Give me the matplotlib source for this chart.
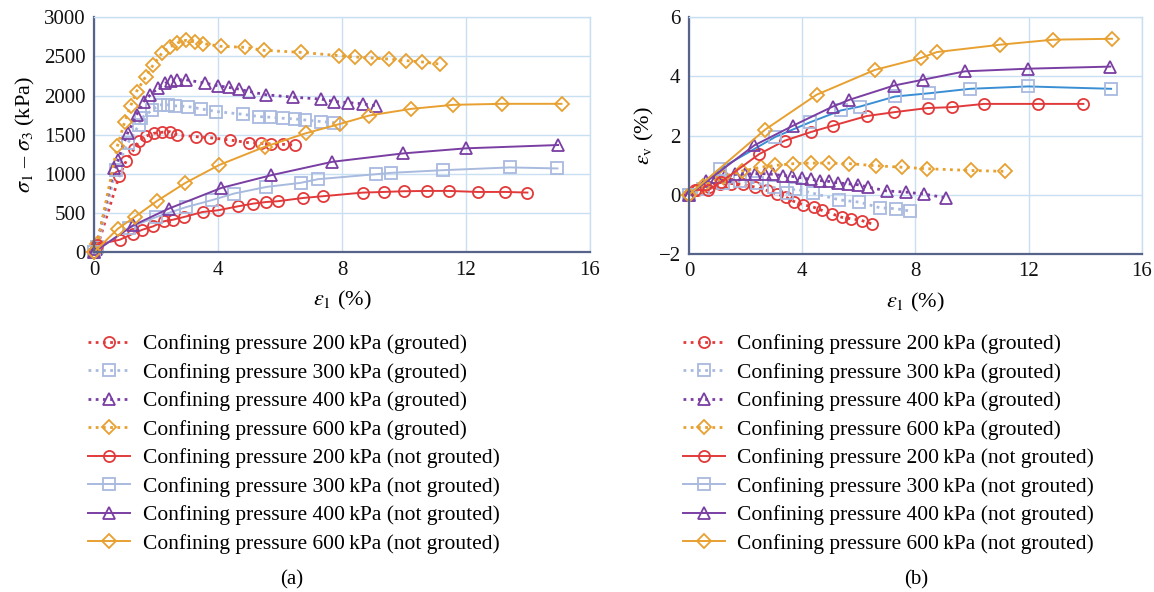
import matplotlib
matplotlib.use("Agg")
import matplotlib.pyplot as plt

# ---------------- data: panel (a) deviator stress ----------------
a_g200_x = [0, 0.1, 0.81, 1.04, 1.29, 1.45, 1.69, 1.93, 2.2, 2.44, 2.69, 3.3, 3.73, 4.38, 5.0, 5.38, 5.72, 6.1, 6.47]
a_g200_y = [0, 60, 971, 1167, 1317, 1423, 1483, 1518, 1531, 1538, 1496, 1474, 1462, 1432, 1397, 1390, 1381, 1377, 1368]
a_g300_x = [0, 0.1, 0.7, 1.1, 1.45, 1.53, 1.88, 2.12, 2.39, 2.6, 3.03, 3.46, 3.95, 4.79, 5.32, 5.67, 6.08, 6.48, 6.8, 7.33, 7.75]
a_g300_y = [0, 60, 1050, 1400, 1624, 1710, 1817, 1881, 1881, 1868, 1859, 1829, 1795, 1761, 1731, 1723, 1710, 1701, 1688, 1667, 1654]
a_g400_x = [0, 0.05, 0.65, 0.77, 1.08, 1.37, 1.6, 1.82, 2.06, 2.3, 2.47, 2.69, 2.96, 3.57, 4.0, 4.35, 4.68, 5.0, 5.56, 6.42, 7.33, 7.75, 8.2, 8.66, 9.11]
a_g400_y = [0, 40, 1069, 1175, 1518, 1752, 1923, 2009, 2094, 2159, 2180, 2201, 2201, 2159, 2124, 2103, 2082, 2051, 2009, 1979, 1954, 1923, 1910, 1894, 1868]
a_g600_x = [0, 0.1, 0.75, 0.99, 1.18, 1.37, 1.66, 1.9, 2.19, 2.44, 2.69, 2.96, 3.25, 3.52, 4.09, 4.86, 5.48, 6.67, 7.9, 8.41, 8.95, 9.5, 10.05, 10.59, 11.15]
a_g600_y = [0, 100, 1350, 1667, 1868, 2051, 2236, 2385, 2543, 2615, 2671, 2705, 2684, 2663, 2628, 2615, 2577, 2551, 2509, 2492, 2479, 2466, 2445, 2428, 2402]

a_n200_x = [0, 0.08, 0.83, 1.26, 1.56, 1.9, 2.25, 2.55, 2.9, 3.5, 4.0, 4.65, 5.13, 5.56, 5.92, 6.74, 7.37, 8.68, 9.35, 9.99, 10.74, 11.45, 12.37, 13.27, 13.98]
a_n200_y = [0, 95, 159, 236, 287, 329, 394, 415, 449, 513, 535, 586, 620, 641, 650, 692, 714, 761, 769, 778, 782, 782, 769, 769, 761]
a_n300_x = [0, 1.13, 2.01, 2.98, 3.79, 4.51, 5.56, 6.66, 7.23, 9.11, 9.59, 11.26, 13.41, 14.95]
a_n300_y = [0, 312, 449, 577, 663, 748, 833, 885, 932, 996, 1013, 1047, 1082, 1069]
a_n400_x = [0, 1.26, 2.41, 4.11, 5.72, 7.69, 9.97, 12.01, 14.97]
a_n400_y = [0, 342, 556, 821, 983, 1154, 1261, 1326, 1368]
a_n600_x = [0, 0.77, 1.31, 2.03, 2.95, 4.03, 5.51, 6.83, 7.93, 8.87, 10.22, 11.58, 13.16, 15.08]
a_n600_y = [0, 300, 449, 654, 885, 1112, 1346, 1518, 1637, 1744, 1829, 1881, 1894, 1894]

# ---------------- data: panel (b) volumetric strain ----------------
b_g200_x = [0, 0.3, 0.7, 1.1, 1.5, 1.9, 2.33, 2.74, 3.1, 3.42, 3.72, 4.02, 4.4, 4.71, 5.04, 5.39, 5.72, 6.1, 6.45]
b_g200_y = [0, 0.15, 0.25, 0.35, 0.38, 0.35, 0.26, 0.15, 0.03, -0.08, -0.23, -0.33, -0.42, -0.53, -0.64, -0.76, -0.81, -0.87, -0.98]
b_g300_x = [0, 0.5, 1.2, 1.8, 2.4, 3.0, 3.45, 3.75, 4.39, 5.31, 6.02, 6.75, 7.31, 7.81]
b_g300_y = [0, 0.2, 0.4, 0.45, 0.4, 0.25, 0.05, 0.2, 0.05, -0.17, -0.25, -0.44, -0.47, -0.55]
b_g400_x = [0, 0.6, 1.0, 1.27, 1.63, 1.98, 2.33, 2.69, 2.98, 3.31, 3.65, 3.98, 4.31, 4.63, 4.96, 5.28, 5.63, 5.96, 6.34, 6.98, 7.67, 8.31, 9.08]
b_g400_y = [0, 0.45, 0.6, 0.65, 0.69, 0.71, 0.71, 0.71, 0.69, 0.65, 0.62, 0.57, 0.52, 0.48, 0.45, 0.4, 0.37, 0.34, 0.26, 0.13, 0.09, 0.02, -0.1]
b_g600_x = [0, 0.5, 1.2, 1.86, 2.54, 3.04, 3.69, 4.31, 4.95, 5.67, 6.61, 7.51, 8.4, 9.96, 11.17]
b_g600_y = [0, 0.3, 0.6, 0.8, 0.93, 0.99, 1.05, 1.07, 1.07, 1.05, 0.98, 0.93, 0.88, 0.82, 0.79]

b_n200_x = [0, 0.21, 0.68, 1.13, 2.49, 3.39, 4.31, 5.1, 6.28, 7.25, 8.43, 9.28, 10.42, 12.34, 13.93]
b_n200_y = [0, 0.17, 0.15, 0.43, 1.38, 1.83, 2.12, 2.34, 2.66, 2.79, 2.93, 2.96, 3.07, 3.07, 3.07]
b_n300_x = [0, 1.1, 3.04, 4.28, 5.37, 6.04, 7.28, 8.49, 9.93, 11.97, 14.91]
b_n300_y = [0, 0.88, 1.95, 2.45, 2.85, 2.98, 3.32, 3.43, 3.58, 3.66, 3.58]
b_n400_x = [0, 2.31, 3.69, 5.08, 5.67, 7.24, 8.28, 9.75, 11.99, 14.88]
b_n400_y = [0, 1.67, 2.34, 2.98, 3.21, 3.69, 3.89, 4.17, 4.26, 4.33]
b_n600_x = [0, 2.69, 4.51, 6.57, 8.2, 8.75, 10.99, 12.87, 14.94]
b_n600_y = [0, 2.2, 3.38, 4.22, 4.62, 4.82, 5.07, 5.24, 5.27]

pressures = ["200", "300", "400", "600"]

# ---------------- styles ----------------
RED = "#e23a3a"
LBLUE = "#a9badf"
PURPLE = "#7a3ea3"
ORANGE = "#e8a030"
BLUE = "#3a8fd4"
GRID = "#c8e0f2"
SPINE = "#56648a"

colors = [RED, LBLUE, PURPLE, ORANGE]
markers = ["o", "s", "^", "D"]
msizes = [8, 8, 9, 7]

plt.rcParams["font.family"] = ["Liberation Serif", "DejaVu Serif"]
plt.rcParams["mathtext.fontset"] = "stix"

fig = plt.figure(figsize=(11.54, 5.92), dpi=100)
axa = fig.add_axes([0.0815, 0.574, 0.4298, 0.397])
axb = fig.add_axes([0.597, 0.571, 0.3926, 0.400])

a_grouted = [(a_g200_x, a_g200_y), (a_g300_x, a_g300_y), (a_g400_x, a_g400_y), (a_g600_x, a_g600_y)]
a_notgr = [(a_n200_x, a_n200_y), (a_n300_x, a_n300_y), (a_n400_x, a_n400_y), (a_n600_x, a_n600_y)]
b_grouted = [(b_g200_x, b_g200_y), (b_g300_x, b_g300_y), (b_g400_x, b_g400_y), (b_g600_x, b_g600_y)]
b_notgr = [(b_n200_x, b_n200_y), (b_n300_x, b_n300_y), (b_n400_x, b_n400_y), (b_n600_x, b_n600_y)]


def draw(ax, grouted, notgr, line_colors_ng):
    handles = []
    for i, (x, y) in enumerate(grouted):
        h, = ax.plot(x, y, linestyle=(0, (1, 1.6)), lw=2.0, color=colors[i],
                     marker=markers[i], ms=msizes[i], mfc="none", mec=colors[i], mew=1.3,
                     label=f"Confining pressure {pressures[i]}\u2009kPa (grouted)", clip_on=False)
        handles.append(h)
    for i, (x, y) in enumerate(notgr):
        h, = ax.plot(x, y, linestyle="-", lw=1.4, color=line_colors_ng[i],
                     marker=markers[i], ms=msizes[i], mfc="none", mec=colors[i], mew=1.3,
                     label=f"Confining pressure {pressures[i]}\u2009kPa (not grouted)", clip_on=False)
        handles.append(h)
    return handles


def style(ax):
    ax.grid(True, color=GRID, lw=1.0)
    ax.set_axisbelow(True)
    for s in ["top", "right"]:
        ax.spines[s].set_color(GRID)
        ax.spines[s].set_linewidth(1.0)
    for s in ["left", "bottom"]:
        ax.spines[s].set_color(SPINE)
        ax.spines[s].set_linewidth(1.6)
    ax.tick_params(length=0, labelsize=15, pad=6, colors="#111111")
    ax.set_xlim(0, 16)
    ax.set_xticks([0, 4, 8, 12, 16])


ha = draw(axa, a_grouted, a_notgr, colors)
style(axa)
axa.set_ylim(0, 3000)
axa.set_yticks(range(0, 3001, 500))
axa.set_xlabel(r"$\varepsilon_1$ (%)", fontsize=16, labelpad=7)
axa.set_ylabel(r"$\sigma_1$ – $\sigma_3$ (kPa)", fontsize=16, labelpad=5)

hb = draw(axb, b_grouted, b_notgr, [RED, BLUE, PURPLE, ORANGE])
style(axb)
axb.set_ylim(-2, 6)
axb.set_yticks([-2, 0, 2, 4, 6])
axb.set_yticklabels(["\u22122", "0", "2", "4", "6"])
axb.set_xlabel(r"$\varepsilon_1$ (%)", fontsize=16, labelpad=7)
axb.set_ylabel(r"$\varepsilon_\mathrm{v}$ (%)", fontsize=16, labelpad=2)

leg_kw = dict(frameon=False, fontsize=15.5, handlelength=1.95, handletextpad=0.6,
              labelspacing=0.39, borderaxespad=0, loc="upper left")
fig.legend(handles=ha, bbox_to_anchor=(0.069, 0.450), **leg_kw)
fig.legend(handles=ha, bbox_to_anchor=(0.584, 0.450), **leg_kw)

fig.text(0.253, 0.012, "(a)", fontsize=15, ha="center")
fig.text(0.794, 0.012, "(b)", fontsize=15, ha="center")

fig.savefig("out.png", dpi=100)
